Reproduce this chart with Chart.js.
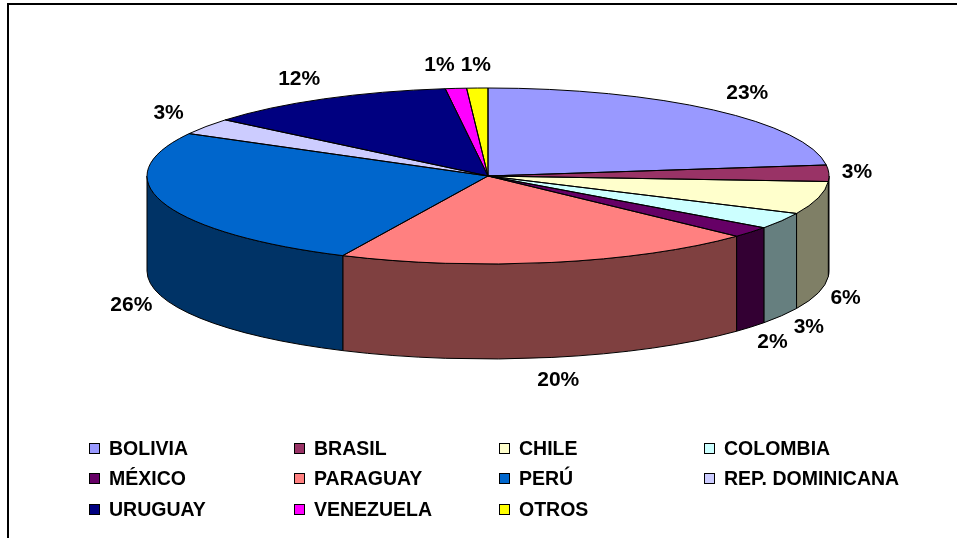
<!DOCTYPE html>
<html>
<head>
<meta charset="utf-8">
<script src="https://cdn.jsdelivr.net/npm/chart.js@4.4.0/dist/chart.umd.min.js"></script>
<style>
    body { margin: 0; background: #fff; overflow: hidden; }
    #wrap { position: relative; width: 957px; height: 538px; }
    #legend {
        position: absolute; left: 89px; top: 433px;
        display: grid; grid-template-columns: repeat(4, 205px); grid-auto-rows: 30.5px;
        font: bold 19.5px "Liberation Sans", Arial, sans-serif; color: #000;
    }
    .item { display: flex; align-items: center; white-space: nowrap; }
    .box { width: 9px; height: 9px; border: 1px solid #000; margin-right: 9px; flex: none; }
</style>
</head>
<body>
<div id="wrap">
    <canvas id="chart" width="957" height="538"></canvas>
    <div id="legend"></div>
</div>
<script>
const categories = ['BOLIVIA', 'BRASIL', 'CHILE', 'COLOMBIA', 'MÉXICO', 'PARAGUAY', 'PERÚ', 'REP. DOMINICANA', 'URUGUAY', 'VENEZUELA', 'OTROS'];
const shares = [23, 3, 6, 3, 2, 20, 26, 3, 12, 1, 1];
const sliceColors = ['#9999FF', '#993366', '#FFFFCC', '#CCFFFF', '#660066', '#FF8080', '#0066CC', '#CCCCFF', '#000080', '#FF00FF', '#FFFF00'];

// where the tilted pie sits on the page
const CX = 488, CY = 176, RX = 341, RY = 88, DEPTH = 95;
const GAP_FRONT = 13, GAP_BACK = 30, GAP_Y = 13;

function darker(hex) {
    const n = parseInt(hex.slice(1), 16);
    const r = (n >> 16) >> 1, g = ((n >> 8) & 255) >> 1, b = (n & 255) >> 1;
    return `rgb(${r},${g},${b})`;
}

// legend (html, fixed columns like the original)
const legend = document.getElementById('legend');
categories.forEach((name, i) => {
    const item = document.createElement('div');
    item.className = 'item';
    item.innerHTML = `<span class="box" style="background:${sliceColors[i]}"></span>${name}`;
    legend.appendChild(item);
});

const pie3d = {
    id: 'pie3d',
    beforeDraw(chart) {
        const ctx = chart.ctx;
        ctx.save();
        ctx.strokeStyle = '#000';
        ctx.lineWidth = 2;
        ctx.strokeRect(8, 4, 1100, 1000);
        ctx.restore();
    },
    beforeDatasetsDraw(chart) {
        const ctx = chart.ctx;
        const arcs = chart.getDatasetMeta(0).data;
        // outer wall, front half only
        arcs.forEach((arc, i) => {
            const s = Math.max(arc.startAngle, 0);
            const e = Math.min(arc.endAngle, Math.PI);
            if (e <= s) return;
            ctx.beginPath();
            ctx.ellipse(CX, CY, RX, RY, 0, s, e);
            ctx.ellipse(CX, CY + DEPTH, RX, RY, 0, e, s, true);
            ctx.closePath();
            ctx.fillStyle = darker(sliceColors[i]);
            ctx.fill();
            ctx.lineWidth = 1;
            ctx.strokeStyle = '#000';
            ctx.stroke();
        });
        // squash the library's round pie into the top face
        const a = arcs[0];
        ctx.save();
        ctx.translate(CX, CY);
        ctx.scale(RX / a.outerRadius, RY / a.outerRadius);
        ctx.translate(-a.x, -a.y);
    },
    afterDatasetsDraw(chart) {
        const ctx = chart.ctx;
        ctx.restore();
        const arcs = chart.getDatasetMeta(0).data;
        ctx.lineWidth = 1;
        ctx.strokeStyle = '#000';
        arcs.forEach(arc => {
            ctx.beginPath();
            ctx.moveTo(CX, CY);
            ctx.ellipse(CX, CY, RX, RY, 0, arc.startAngle, arc.endAngle);
            ctx.closePath();
            ctx.stroke();
        });

        ctx.font = 'bold 21px "Liberation Sans", Arial, sans-serif';
        ctx.fillStyle = '#000';
        ctx.textAlign = 'center';
        ctx.textBaseline = 'middle';
        const boxes = arcs.map((arc, i) => {
            const mid = (arc.startAngle + arc.endAngle) / 2;
            const c = Math.cos(mid), s = Math.sin(mid);
            const text = shares[i] + '%';
            const hw = ctx.measureText(text).width / 2, hh = 10;
            const px = CX + RX * c;
            const py = CY + RY * s + (s > 0 ? DEPTH : 0);
            const gx = s < -0.3 ? GAP_BACK : GAP_FRONT;
            return { text, hw, hh, x: px + c * (gx + hw), y: py + s * (GAP_Y + hh) };
        });
        // nudge neighbours apart when they collide
        for (let i = boxes.length - 1; i > 0; i--) {
            const a = boxes[i - 1], b = boxes[i];
            const overlapX = (a.hw + b.hw + 6) - Math.abs(a.x - b.x);
            const overlapY = (a.hh + b.hh) - Math.abs(a.y - b.y);
            if (overlapX > 0 && overlapY > 0) a.x += (a.x < b.x ? -overlapX : overlapX);
        }
        boxes.forEach(b => ctx.fillText(b.text, b.x, b.y));
    }
};

new Chart(document.getElementById('chart'), {
    type: 'pie',
    data: {
        labels: categories,
        datasets: [{
            data: shares,
            backgroundColor: sliceColors,
            borderWidth: 0,
            clip: false
        }]
    },
    options: {
        responsive: false,
        animation: false,
        events: [],
        plugins: {
            legend: { display: false },
            tooltip: { enabled: false }
        }
    },
    plugins: [pie3d]
});
</script>
</body>
</html>
